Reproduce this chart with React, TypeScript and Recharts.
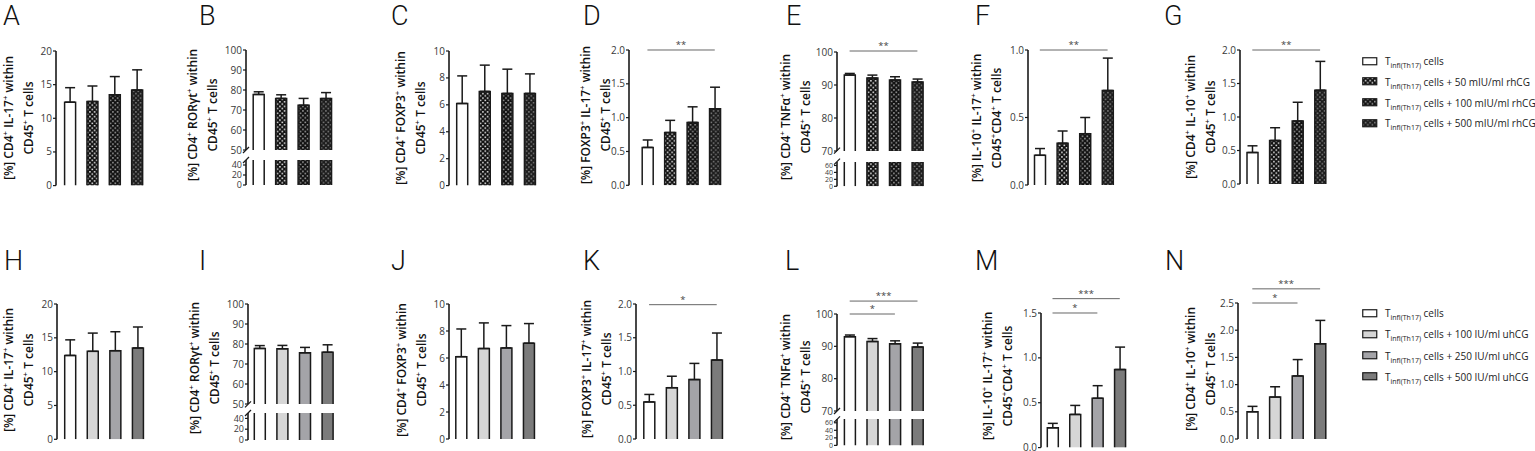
import React from "react";
import { BarChart, Bar, XAxis, YAxis, ErrorBar, ReferenceLine } from "recharts";

// four treatment groups per panel
const groups = ["ctrl", "low", "mid", "high"];

// top row (rhCG): mean and SEM
const meanA = [12.4, 12.5, 13.5, 14.2];
const errA = [2.15, 2.3, 2.7, 3.0];
const meanB = [77.8, 75.8, 72.4, 75.7];
const errB = [1.3, 1.8, 3.4, 3.0];
const meanC = [6.1, 7.0, 6.85, 6.85];
const errC = [2.05, 1.95, 1.8, 1.45];
const meanD = [0.56, 0.78, 0.93, 1.13];
const errD = [0.11, 0.18, 0.23, 0.32];
const meanE = [93.0, 92.1, 91.5, 90.9];
const errE = [0.5, 0.9, 1.0, 0.9];
const meanF = [0.22, 0.31, 0.38, 0.7];
const errF = [0.05, 0.09, 0.12, 0.24];
const meanG = [0.47, 0.65, 0.94, 1.4];
const errG = [0.1, 0.19, 0.28, 0.43];

// bottom row (uhCG): mean and SEM
const meanH = [12.4, 13.0, 13.1, 13.5];
const errH = [2.3, 2.7, 2.8, 3.1];
const meanI = [77.8, 77.6, 75.6, 75.9];
const errI = [1.4, 1.7, 2.7, 3.7];
const meanJ = [6.1, 6.7, 6.75, 7.1];
const errJ = [2.05, 1.9, 1.65, 1.45];
const meanK = [0.55, 0.76, 0.88, 1.17];
const errK = [0.11, 0.17, 0.24, 0.4];
const meanL = [93.0, 91.5, 90.8, 89.8];
const errL = [0.5, 0.9, 0.9, 1.2];
const meanM = [0.22, 0.37, 0.55, 0.87];
const errM = [0.05, 0.1, 0.14, 0.25];
const meanN = [0.5, 0.77, 1.16, 1.75];
const errN = [0.1, 0.19, 0.3, 0.43];

// significance brackets: group index from/to, height in data units
const sigD = [{ from: 0, to: 3, y: 2.0, text: "**" }];
const sigE = [{ from: 0, to: 3, y: 100.3, text: "**" }];
const sigF = [{ from: 0, to: 3, y: 1.0, text: "**" }];
const sigG = [{ from: 0, to: 3, y: 2.0, text: "**" }];
const sigK = [{ from: 0, to: 3, y: 1.99, text: "*" }];
const sigL = [
  { from: 0, to: 2, y: 100, text: "*" },
  { from: 0, to: 3, y: 104, text: "***" },
];
const sigM = [
  { from: 0, to: 2, y: 1.5, text: "*" },
  { from: 0, to: 3, y: 1.66, text: "***" },
];
const sigN = [
  { from: 0, to: 2, y: 2.5, text: "*" },
  { from: 0, to: 3, y: 2.76, text: "***" },
];

const legendTop = ["", " + 50 mIU/ml rhCG", " + 100 mIU/ml rhCG", " + 500 mIU/ml rhCG"];
const legendBottom = ["", " + 100 IU/ml uhCG", " + 250 IU/ml uhCG", " + 500 IU/ml uhCG"];

const lblIL17 = ["[%] CD4{+} IL-17{+} within", "CD45{+} T cells"];
const lblROR = ["[%] CD4{+} RORγt{+} within", "CD45{+} T cells"];
const lblFOX = ["[%] CD4{+} FOXP3{+} within", "CD45{+} T cells"];
const lblFOXIL = ["[%] FOXP3{+} IL-17{+} within", "CD45{+} T cells"];
const lblTNF = ["[%] CD4{+} TNFα{+} within", "CD45{+} T cells"];
const lblIL10IL17 = ["[%] IL-10{+} IL-17{+} within", "CD45{+}CD4{+}  T cells"];
const lblIL10 = ["[%] CD4{+} IL-10{+} within", "CD45{+} T cells"];

const FONT = "'Open Sans', 'DejaVu Sans', sans-serif";
const LETTER_FONT = "Roboto, 'Open Sans', sans-serif";
const YW = 34;
const MR = 4;
const MB = 7;
const BAND = 22.6;
const INK = "#1a1a1a";
const AXIS = { stroke: INK, strokeWidth: 1.6 };

const rhFills = ["#ffffff", "url(#chk50)", "url(#chk100)", "url(#chk500)"];
const uhFills = ["#ffffff", "#d6d6d6", "#a4a4a8", "#7b7b7b"];

const patterns = [
  { id: "chk50", bg: "#111", dot: "#f2f2f2" },
  { id: "chk100", bg: "#111", dot: "#a8a8a8" },
  { id: "chk500", bg: "#1c1c1c", dot: "#858585" },
];

type Sig = { from: number; to: number; y: number; text: string };
type Brk = { split: number; upperBot: number; lowerTop: number; upTicks: number[]; lowTicks: number[] };
type Panel = {
  letter: string; lx: number; ly: number;
  label: string[]; labX: number; labY: number;
  x0: number; len: number; pl: number; top: number; bot: number;
  domain: [number, number]; ticks: number[]; dec: number;
  mean: number[]; err: number[]; fills: string[];
  brk?: Brk; sig?: Sig[];
};

const panels: Panel[] = [
  { letter: "A", lx: 3, ly: 2.5, label: lblIL17, labX: 18.5, labY: 118, x0: 56, len: 92, pl: 2.6, top: 50.7, bot: 185.3, domain: [0, 20], ticks: [0, 5, 10, 15, 20], dec: 0, mean: meanA, err: errA, fills: rhFills },
  { letter: "B", lx: 199, ly: 2.5, label: lblROR, labX: 203, labY: 115, x0: 246, len: 91, pl: 1.2, top: 50, bot: 185, domain: [0, 100], ticks: [], dec: 0, mean: meanB, err: errB, fills: rhFills,
    brk: { split: 50, upperBot: 150, lowerTop: 160, upTicks: [50, 60, 70, 80, 90, 100], lowTicks: [0, 20, 40] } },
  { letter: "C", lx: 391, ly: 2.5, label: lblFOX, labX: 411, labY: 118, x0: 449, len: 92, pl: 1.7, top: 50.7, bot: 185.3, domain: [0, 10], ticks: [0, 2, 4, 6, 8, 10], dec: 0, mean: meanC, err: errC, fills: rhFills },
  { letter: "D", lx: 583, ly: 2.5, label: lblFOXIL, labX: 596, labY: 115, x0: 629, len: 97, pl: 7.2, top: 50, bot: 185.3, domain: [0, 2], ticks: [0, 0.5, 1, 1.5, 2], dec: 1, mean: meanD, err: errD, fills: rhFills, sig: sigD },
  { letter: "E", lx: 786, ly: 2.5, label: lblTNF, labX: 796, labY: 117, x0: 837, len: 93, pl: 1.3, top: 51.7, bot: 186, domain: [0, 100], ticks: [], dec: 0, mean: meanE, err: errE, fills: rhFills, sig: sigE,
    brk: { split: 70, upperBot: 150.7, lowerTop: 161.7, upTicks: [70, 80, 90, 100], lowTicks: [0, 20, 40, 60] } },
  { letter: "F", lx: 975, ly: 2.5, label: lblIL10IL17, labX: 987, labY: 118, x0: 1028, len: 91, pl: 0.5, top: 50, bot: 185, domain: [0, 1], ticks: [0, 0.5, 1], dec: 1, mean: meanF, err: errF, fills: rhFills, sig: sigF },
  { letter: "G", lx: 1164, ly: 2.5, label: lblIL10, labX: 1201, labY: 117, x0: 1240, len: 92, pl: 1, top: 50, bot: 184, domain: [0, 2], ticks: [0, 0.5, 1, 1.5, 2], dec: 1, mean: meanG, err: errG, fills: rhFills, sig: sigG },

  { letter: "H", lx: 4, ly: 247.5, label: lblIL17, labX: 19, labY: 370, x0: 57, len: 92, pl: 1.7, top: 304, bot: 439.3, domain: [0, 20], ticks: [0, 5, 10, 15, 20], dec: 0, mean: meanH, err: errH, fills: uhFills },
  { letter: "I", lx: 199, ly: 247.5, label: lblROR, labX: 205, labY: 368, x0: 248, len: 91, pl: 0.3, top: 304.3, bot: 440, domain: [0, 100], ticks: [], dec: 0, mean: meanI, err: errI, fills: uhFills,
    brk: { split: 50, upperBot: 404.3, lowerTop: 413, upTicks: [50, 60, 70, 80, 90, 100], lowTicks: [0, 20, 40] } },
  { letter: "J", lx: 391, ly: 247.5, label: lblFOX, labX: 411.5, labY: 370, x0: 449, len: 91, pl: 0.8, top: 304, bot: 439, domain: [0, 10], ticks: [0, 2, 4, 6, 8, 10], dec: 0, mean: meanJ, err: errJ, fills: uhFills },
  { letter: "K", lx: 583, ly: 247.5, label: lblFOXIL, labX: 596.5, labY: 369, x0: 636, len: 92, pl: 1.8, top: 304, bot: 439, domain: [0, 2], ticks: [0, 0.5, 1, 1.5, 2], dec: 1, mean: meanK, err: errK, fills: uhFills, sig: sigK },
  { letter: "L", lx: 785, ly: 247.5, label: lblTNF, labX: 796, labY: 377, x0: 837, len: 93, pl: 1.4, top: 314, bot: 445.7, domain: [0, 100], ticks: [], dec: 0, mean: meanL, err: errL, fills: uhFills, sig: sigL,
    brk: { split: 70, upperBot: 411, lowerTop: 419.3, upTicks: [70, 80, 90, 100], lowTicks: [0, 20, 40, 60] } },
  { letter: "M", lx: 975, ly: 247.5, label: lblIL10IL17, labX: 998, labY: 376, x0: 1041, len: 90, pl: 0.3, top: 312.7, bot: 447.3, domain: [0, 1.5], ticks: [0, 0.5, 1, 1.5], dec: 1, mean: meanM, err: errM, fills: uhFills, sig: sigM },
  { letter: "N", lx: 1165, ly: 247.5, label: lblIL10, labX: 1201, labY: 369, x0: 1238, len: 95, pl: 3, top: 303.3, bot: 439.3, domain: [0, 2.5], ticks: [0, 0.5, 1, 1.5, 2, 2.5], dec: 1, mean: meanN, err: errN, fills: uhFills, sig: sigN },
];

const rich = (s: string) =>
  s.split(/\{(.*?)\}/).map((t, i) =>
    i % 2 ? (
      <sup key={i} style={{ fontSize: "0.65em", lineHeight: 0 }}>{t}</sup>
    ) : (
      <React.Fragment key={i}>{t}</React.Fragment>
    )
  );

const makeShape = (fills: string[], openTop: boolean) => (props: any) => {
  const { x, y, width, height, index } = props;
  const d = openTop
    ? `M${x},${y}V${y + height}M${x + width},${y}V${y + height}`
    : `M${x},${y + height}V${y}H${x + width}V${y + height}`;
  return (
    <g>
      <rect x={x} y={y} width={width} height={height} fill={fills[index]} />
      <path d={d} fill="none" stroke={INK} strokeWidth={1.5} />
    </g>
  );
};

type SegProps = {
  p: Panel; lo: number; hi: number; ticks: number[];
  yTop: number; yBot: number; mt: number; tickFont: number;
  withX: boolean; withErr: boolean; openTop: boolean; sig: Sig[];
};

function Segment({ p, lo, hi, ticks, yTop, yBot, mt, tickFont, withX, withErr, openTop, sig }: SegProps) {
  const data = groups.map((g, i) => ({ name: g, v: Math.min(p.mean[i], hi), e: [0, p.err[i]] }));
  const pr = Math.max(0, p.len - p.pl - 4 * BAND);
  return (
    <div style={{ position: "absolute", left: p.x0 - YW, top: yTop - mt }}>
      <BarChart
        width={YW + p.len + MR}
        height={mt + (yBot - yTop) + MB}
        data={data}
        margin={{ top: mt, right: MR, bottom: MB, left: 0 }}
        barSize={11}
      >
        <XAxis dataKey="name" height={0} tick={false} tickLine={false} axisLine={withX ? AXIS : false} padding={{ left: p.pl, right: pr }} />
        <YAxis
          width={YW}
          type="number"
          domain={[lo, hi]}
          ticks={ticks}
          interval={0}
          allowDataOverflow
          tickSize={3}
          tickMargin={1}
          axisLine={AXIS}
          tickLine={{ stroke: INK, strokeWidth: 1.2 }}
          tick={{ fontSize: tickFont, fill: "#3a3a3a", fontFamily: FONT }}
          tickFormatter={(v: number) => v.toFixed(p.dec)}
        />
        <Bar dataKey="v" isAnimationActive={false} shape={makeShape(p.fills, openTop)}>
          {withErr && <ErrorBar dataKey="e" width={5} stroke={INK} strokeWidth={1.5} />}
        </Bar>
        {sig.map((s, i) => (
          <ReferenceLine
            key={i}
            segment={[{ x: groups[s.from], y: s.y }, { x: groups[s.to], y: s.y }]}
            ifOverflow="visible"
            stroke="#666"
            strokeWidth={1}
            label={{ value: s.text, position: "top", offset: 2, fontSize: 9.5, fill: "#444", fontFamily: FONT }}
          />
        ))}
      </BarChart>
    </div>
  );
}

function PanelView({ p }: { p: Panel }) {
  const sig = p.sig ?? [];
  return (
    <>
      <div style={{ position: "absolute", left: p.lx, top: p.ly, fontFamily: LETTER_FONT, fontWeight: 300, fontSize: 27, lineHeight: "27px", color: "#111" }}>
        {p.letter}
      </div>
      <div
        style={{
          position: "absolute", left: p.labX, top: p.labY,
          transform: "translate(-50%, -50%) rotate(-90deg)",
          fontFamily: FONT, fontWeight: 600, fontSize: 12, lineHeight: "20px",
          textAlign: "center", whiteSpace: "nowrap", color: "#111",
        }}
      >
        <div>{rich(p.label[0])}</div>
        <div>{rich(p.label[1])}</div>
      </div>
      {p.brk ? (
        <>
          <Segment p={p} lo={p.brk.split} hi={100} ticks={p.brk.upTicks} yTop={p.top} yBot={p.brk.upperBot} mt={30}
            tickFont={10} withX={false} withErr openTop={false} sig={sig} />
          <Segment p={p} lo={0} hi={p.brk.split} ticks={p.brk.lowTicks} yTop={p.brk.lowerTop} yBot={p.bot} mt={6}
            tickFont={p.brk.lowTicks.length > 3 ? 7 : 9} withX withErr={false} openTop sig={[]} />
        </>
      ) : (
        <Segment p={p} lo={p.domain[0]} hi={p.domain[1]} ticks={p.ticks} yTop={p.top} yBot={p.bot} mt={30}
          tickFont={10} withX withErr openTop={false} sig={sig} />
      )}
    </>
  );
}

function LegendBlock({ top, step, items, fills }: { top: number; step: number; items: string[]; fills: string[] }) {
  return (
    <>
      {items.map((t, i) => (
        <div
          key={i}
          style={{
            position: "absolute", left: 1362, top: top + i * step - 7, height: 14,
            display: "flex", alignItems: "center", fontFamily: FONT, fontSize: 10,
            whiteSpace: "nowrap", color: "#222",
          }}
        >
          <svg width={16} height={9} style={{ marginRight: 7 }}>
            <rect x={0.75} y={0.75} width={14} height={7} fill={fills[i]} stroke={INK} strokeWidth={1.2} />
          </svg>
          <span>
            T<sub style={{ fontSize: "0.7em", lineHeight: 0 }}>infl(Th17)</sub> cells{t}
          </span>
        </div>
      ))}
    </>
  );
}

export default function App() {
  return (
    <div style={{ position: "absolute", left: 0, top: 0, width: 1535, height: 451, background: "#fff", overflow: "hidden" }}>
      <svg width={0} height={0} style={{ position: "absolute" }}>
        <defs>
          {patterns.map((pt) => (
            <pattern key={pt.id} id={pt.id} width={4.6} height={4.6} patternUnits="userSpaceOnUse">
              <rect width={4.6} height={4.6} fill={pt.bg} />
              <rect x={0.5} y={0.5} width={1.5} height={1.5} fill={pt.dot} />
              <rect x={2.8} y={2.8} width={1.5} height={1.5} fill={pt.dot} />
            </pattern>
          ))}
        </defs>
      </svg>
      {panels.map((p) => (
        <PanelView key={p.letter} p={p} />
      ))}
      <svg width={1535} height={451} style={{ position: "absolute", left: 0, top: 0, pointerEvents: "none" }}>
        {panels
          .filter((p) => p.brk)
          .map((p) => (
            <g key={p.letter} stroke={INK} strokeWidth={1.2}>
              <line x1={p.x0 - 3} y1={p.brk!.upperBot + 3} x2={p.x0 + 3} y2={p.brk!.upperBot - 3} />
              <line x1={p.x0 - 3} y1={p.brk!.lowerTop + 3} x2={p.x0 + 3} y2={p.brk!.lowerTop - 3} />
            </g>
          ))}
      </svg>
      <LegendBlock top={61} step={20.8} items={legendTop} fills={rhFills} />
      <LegendBlock top={313} step={21.3} items={legendBottom} fills={uhFills} />
    </div>
  );
}
